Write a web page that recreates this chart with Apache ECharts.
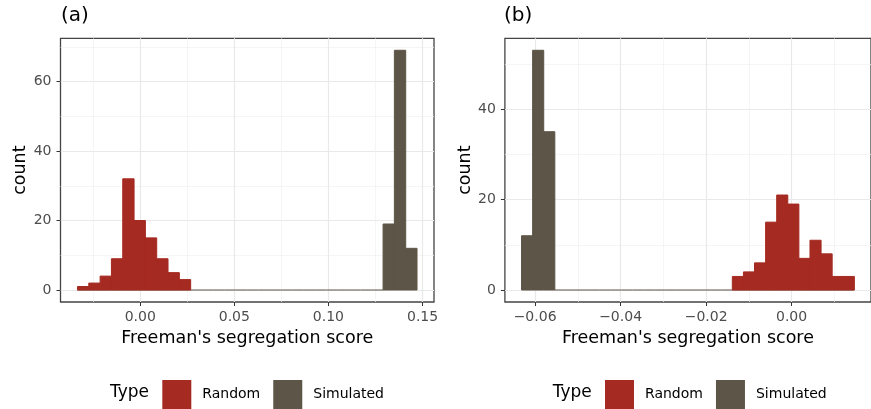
<!DOCTYPE html>
<html><head><meta charset="utf-8">
<script src="https://cdn.jsdelivr.net/npm/echarts@6/dist/echarts.min.js"></script>
<style>html,body{margin:0;padding:0;background:#fff}#c{width:871px;height:409px}</style>
</head><body><div id="c"></div>
<script>
// ---------- Panel (a) ----------
const binStartA = -0.03333;
const binWidthA = 0.006013;
const randomA    = [1,2,4,9,32,20,15,9,5,3, 0,0,0,0,0,0,0,0,0,0, 0,0,0,0,0,0,0,0,0,0];
const simulatedA = [0,0,0,0,0,0,0,0,0,0, 0,0,0,0,0,0,0,0,0,0, 0,0,0,0,0,0,0,19,69,12];
const xTicksA = [0, 0.05, 0.10, 0.15];
const xMinorA = [-0.025, 0.025, 0.075, 0.125];
const yTicksA = [0, 20, 40, 60];
const yMinorA = [10, 30, 50, 70];
// ---------- Panel (b) ----------
const binStartB = -0.06317;
const binWidthB = 0.002595;
const randomB    = [0,0,0,0,0,0,0,0,0,0, 0,0,0,0,0,0,0,0,0,3, 4,6,15,21,19,7,11,8,3,3];
const simulatedB = [12,53,35,0,0,0,0,0,0,0, 0,0,0,0,0,0,0,0,0,0, 0,0,0,0,0,0,0,0,0,0];
const xTicksB = [-0.06, -0.04, -0.02, 0.00];
const xMinorB = [-0.05, -0.03, -0.01, 0.01];
const yTicksB = [0, 20, 40];
const yMinorB = [10, 30, 50];
// ---------- Text ----------
const typeNames = ['Random', 'Simulated'];
const xTitle = "Freeman's segregation score";
const yTitle = 'count';
const panelTags = ['(a)', '(b)'];
const legendTitle = 'Type';

const FONT = 'DejaVu Sans';
const COLORS = { Random: '#a52a21', Simulated: '#5d5547' };

function extents(start, width, rnd, sim) {
  const n = rnd.length;
  const x0 = start, x1 = start + width * n;
  const pad = 0.05 * (x1 - x0);
  let ymax = 0;
  for (let i = 0; i < n; i++) ymax = Math.max(ymax, rnd[i] + sim[i]);
  return { xmin: x0 - pad, xmax: x1 + pad, ymin: -0.05 * ymax, ymax: 1.05 * ymax };
}
function buildData(start, width, rnd, sim) {
  const r = [], s = [];
  for (let i = 0; i < rnd.length; i++) {
    const a = start + width * i, b = start + width * (i + 1);
    s.push([a, b, 0, sim[i]]);
    r.push([a, b, sim[i], sim[i] + rnd[i]]);
  }
  return { r, s };
}
function makeRender(drawZeroLine) {
  return function (params, api) {
    const x0 = api.value(0), x1 = api.value(1), y0 = api.value(2), y1 = api.value(3);
    const p0 = api.coord([x0, y0]);
    const p1 = api.coord([x1, y1]);
    const color = api.visual('color');
    if (y1 === y0) {
      if (!drawZeroLine) return null;
      return { type: 'line', shape: { x1: p0[0], y1: p0[1], x2: p1[0], y2: p0[1] },
               style: { stroke: color, lineWidth: 1 } };
    }
    return { type: 'rect', shape: { x: p0[0], y: p1[1], width: p1[0] - p0[0], height: p0[1] - p1[1] },
             style: { fill: color, stroke: color, lineWidth: 1 } };
  };
}
function fmtX(v) {
  const a = Math.abs(v).toFixed(2);
  return (v < -1e-12 ? '\u2212' : '') + a;
}

const panels = [
  { start: binStartA, width: binWidthA, rnd: randomA, sim: simulatedA, xt: xTicksA, xm: xMinorA, yt: yTicksA, ym: yMinorA,
    grid: { left: 60.5, top: 38.3, width: 373.5, height: 263.7 }, tagLeft: 61, typeLeft: 110, legendLeft: 162.3 },
  { start: binStartB, width: binWidthB, rnd: randomB, sim: simulatedB, xt: xTicksB, xm: xMinorB, yt: yTicksB, ym: yMinorB,
    grid: { left: 504.9, top: 38.3, width: 374, height: 263.7 }, tagLeft: 504, typeLeft: 552.7, legendLeft: 605 }
];

const option = { animation: false, grid: [], xAxis: [], yAxis: [], series: [], title: [], legend: [] };
panels.forEach((p, g) => {
  const e = extents(p.start, p.width, p.rnd, p.sim);
  const d = buildData(p.start, p.width, p.rnd, p.sim);
  option.grid.push(Object.assign({ show: true, borderColor: '#444', borderWidth: 1.3, backgroundColor: 'transparent' }, p.grid));
  // major x
  option.xAxis.push({
    type: 'value', gridIndex: g, min: e.xmin, max: e.xmax, position: 'bottom',
    axisLine: { show: false, onZero: false },
    axisTick: { show: true, length: 4, lineStyle: { color: '#333', width: 1 }, customValues: p.xt },
    axisLabel: { customValues: p.xt, formatter: fmtX, color: '#4d4d4d', fontSize: 14, fontFamily: FONT, margin: 8 },
    splitLine: { show: true, lineStyle: { color: '#e9e9e9', width: 1.2 } },
    name: xTitle, nameLocation: 'middle', nameGap: 27,
    nameTextStyle: { fontSize: 17.5, color: '#000', fontFamily: FONT }
  });
  // minor x
  option.xAxis.push({
    type: 'value', gridIndex: g, min: e.xmin, max: e.xmax, position: 'top',
    axisLine: { show: false, onZero: false }, axisTick: { show: false, customValues: p.xm }, axisLabel: { show: false },
    splitLine: { show: true, lineStyle: { color: '#f1f1f1', width: 0.7 } }
  });
  // major y
  option.yAxis.push({
    type: 'value', gridIndex: g, min: e.ymin, max: e.ymax, position: 'left',
    axisLine: { show: false, onZero: false },
    axisTick: { show: true, length: 4, lineStyle: { color: '#333', width: 1 }, customValues: p.yt },
    axisLabel: { customValues: p.yt, color: '#4d4d4d', fontSize: 14, fontFamily: FONT, margin: 9 },
    splitLine: { show: true, lineStyle: { color: '#e9e9e9', width: 1.2 } },
    name: yTitle, nameLocation: 'middle', nameGap: 29,
    nameTextStyle: { fontSize: 17.5, color: '#000', fontFamily: FONT }
  });
  // minor y
  option.yAxis.push({
    type: 'value', gridIndex: g, min: e.ymin, max: e.ymax, position: 'right',
    axisLine: { show: false, onZero: false }, axisTick: { show: false, customValues: p.ym }, axisLabel: { show: false },
    splitLine: { show: true, lineStyle: { color: '#f1f1f1', width: 0.7 } }
  });
  option.series.push({
    type: 'custom', name: typeNames[1], xAxisIndex: 2 * g, yAxisIndex: 2 * g,
    itemStyle: { color: COLORS.Simulated }, renderItem: makeRender(true),
    encode: { x: [0, 1], y: [2, 3] }, data: d.s, z: 3
  });
  option.series.push({
    type: 'custom', name: typeNames[0], xAxisIndex: 2 * g, yAxisIndex: 2 * g,
    itemStyle: { color: COLORS.Random }, renderItem: makeRender(false),
    encode: { x: [0, 1], y: [2, 3] }, data: d.r, z: 4
  });
  option.title.push({ text: panelTags[g], left: p.tagLeft, top: 6, padding: 0,
    textStyle: { fontSize: 20, fontWeight: 'normal', color: '#000', fontFamily: FONT } });
  option.title.push({ text: legendTitle, left: p.typeLeft, top: 384, padding: 0,
    textStyle: { fontSize: 17, fontWeight: 'normal', color: '#000', fontFamily: FONT } });
  option.legend.push({
    data: typeNames.map(n => ({ name: n, icon: 'rect' })),
    left: p.legendLeft, top: 380, padding: 0, itemWidth: 29, itemHeight: 29, itemGap: 13,
    selectedMode: false,
    itemStyle: { borderWidth: 0 },
    textStyle: { fontSize: 14, color: '#000', fontFamily: FONT, padding: [0, 0, 0, 6] }
  });
});

const chart = echarts.init(document.getElementById('c'), null, { renderer: 'canvas' });
chart.setOption(option);
</script>
</body></html>
